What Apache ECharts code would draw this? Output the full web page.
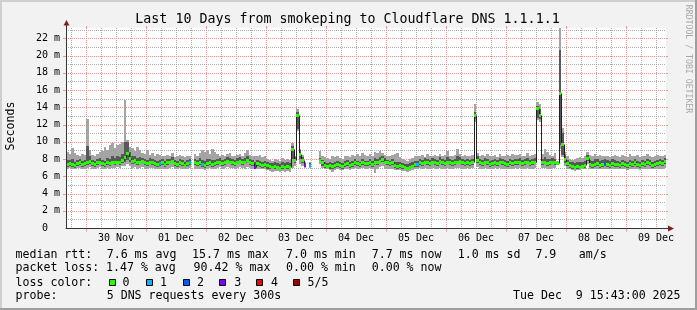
<!DOCTYPE html>
<html>
<head>
<meta charset="utf-8">
<script src="https://cdn.jsdelivr.net/npm/echarts@6.0.0/dist/echarts.min.js"></script>
<style>
html,body{margin:0;padding:0;background:#f2f2f2;overflow:hidden;}
#chart{width:697px;height:310px;}
</style>
</head>
<body>
<div id="chart"></div>
<script>
// ---------------- data (milliseconds), one step per hour ----------------
// hour offsets are relative to 30 Nov 00:00
const firstStepHour = -8;
const xRange = [-8, 232];
const yMaxMs = 23.2;

const dayLabels = ['30 Nov','01 Dec','02 Dec','03 Dec','04 Dec','05 Dec','06 Dec','07 Dec','08 Dec','09 Dec'];
const dayLabelHours = [12,36,60,84,108,132,156,180,204,228];
const dayLineHours = [0,24,48,72,96,120,144,168,192,216];
const sixHourLineHours = [-6,6,12,18,30,36,42,54,60,66,78,84,90,102,108,114,126,132,138,150,156,162,174,180,186,198,204,210,222,228];
const yLabelValues = [0,2,4,6,8,10,12,14,16,18,20,22];
const yMajorLines = [2,4,6,8,10,12,14,16,18,20,22];
const yMinorLines = [1,3,5,7,9,11,13,15,17,19,21,23];

const medianRtt = [
7.4,7.5,7.4,7.3,7.5,7.6,7.4,7.5,7.6,7.8,7.5,7.4,7.6,7.7,7.5,7.4,7.6,7.5,7.7,7.6,
7.7,7.6,7.9,8.2,8.7,8.1,7.8,7.9,7.6,7.7,7.8,7.6,7.5,7.7,7.6,7.5,7.4,7.5,7.6,7.4,
7.6,7.7,7.8,7.5,7.4,7.6,7.5,7.3,7.5,7.6,null,7.6,7.5,7.6,7.4,7.3,7.5,7.6,7.4,7.5,
7.6,7.7,7.5,7.6,7.8,7.7,7.6,7.5,7.7,7.8,7.6,7.7,7.9,7.6,7.5,7.1,7.5,7.4,7.3,7.4,
7.3,7.2,7.1,7.2,7.1,7.0,7.2,7.1,7.2,7.1,9.2,7.9,13.1,8.6,7.9,7.3,null,7.3,null,null,
null,7.9,7.6,7.3,7.2,7.3,7.2,7.3,7.4,7.3,7.2,7.4,7.5,7.3,7.4,7.6,7.5,7.4,7.6,7.5,
7.5,7.6,7.4,7.7,7.6,7.8,8.0,7.7,7.6,7.5,7.6,7.3,7.2,7.3,7.2,7.1,7.0,7.1,7.2,7.4,
7.4,7.6,7.5,7.7,7.6,7.5,7.7,7.6,7.5,7.8,7.6,7.5,7.7,7.6,7.5,7.6,7.7,7.8,7.6,7.5,
7.6,7.5,7.6,13.1,7.9,7.6,7.5,7.7,7.6,7.4,7.5,7.6,7.5,7.7,7.6,7.5,7.4,7.6,7.5,7.6,
7.6,7.7,7.5,7.6,7.7,7.5,7.6,7.7,13.9,13.1,7.6,7.7,7.5,7.6,7.7,7.6,7.5,15.7,9.8,8.0,
7.5,7.3,7.2,7.1,7.2,7.1,7.2,7.3,8.1,7.4,7.3,7.4,7.5,7.3,7.4,7.5,7.4,7.3,7.5,7.4,
7.4,7.3,7.5,7.4,7.3,7.5,7.4,7.6,7.4,7.3,7.5,7.4,7.6,7.5,7.3,7.4,7.5,7.6,7.5,7.8
];
const pingMin = [
6.9,7.0,6.9,6.8,7.0,7.0,6.9,6.9,7.0,7.1,6.9,6.9,7.0,7.1,6.9,6.8,7.0,6.9,7.0,7.0,
7.1,7.0,7.2,7.2,7.4,7.2,7.0,7.1,6.9,7.0,7.1,6.9,6.9,7.0,7.0,6.9,6.9,6.8,6.9,6.9,
6.9,7.0,7.1,6.8,6.9,7.0,6.9,6.8,6.9,7.0,null,6.9,6.8,6.9,6.8,6.7,6.9,7.0,6.8,6.9,
7.0,7.1,6.9,7.0,7.1,7.0,7.0,6.9,7.0,7.1,7.0,6.9,7.1,7.0,6.9,6.8,6.9,6.8,6.8,6.9,
6.7,6.6,6.5,6.6,6.6,6.5,6.6,6.5,6.6,6.5,7.0,7.2,11.2,7.4,7.2,7.0,null,7.0,null,null,
null,7.4,7.0,6.8,6.8,6.7,6.5,6.7,6.8,6.7,6.7,6.8,6.9,6.7,6.8,7.0,6.9,6.8,7.0,6.9,
6.9,7.0,6.8,6.4,6.9,7.1,7.2,6.9,6.9,6.8,6.9,6.7,6.7,6.7,6.6,6.6,6.5,6.6,6.7,6.9,
6.9,7.0,6.9,7.0,6.9,6.9,7.0,6.9,6.9,7.0,6.9,6.8,7.0,6.9,6.9,7.0,7.0,7.0,6.9,6.9,
7.0,6.9,7.0,12.3,7.1,6.9,6.9,7.0,6.9,6.8,6.9,7.0,6.9,7.0,6.9,6.9,6.8,6.9,6.9,7.0,
6.9,7.0,6.9,6.9,7.0,6.8,6.9,7.0,12.5,12.3,7.0,7.0,6.9,6.9,7.0,7.0,7.3,9.2,8.2,7.2,
6.9,6.8,6.7,6.6,6.7,6.7,6.8,6.8,7.4,6.8,6.8,6.9,6.9,6.8,6.9,6.9,6.8,6.8,6.9,6.9,
6.8,6.8,6.9,6.8,6.7,6.9,6.8,6.9,6.8,6.7,6.9,6.8,6.9,6.9,6.8,6.8,6.9,6.9,6.8,7.0
];
const pingLow = [
7.1,7.2,7.1,7.0,7.2,7.3,7.1,7.2,7.3,7.4,7.2,7.1,7.3,7.4,7.2,7.1,7.3,7.2,7.4,7.3,
7.4,7.3,7.5,7.6,7.9,7.6,7.4,7.5,7.3,7.4,7.5,7.3,7.2,7.4,7.3,7.2,7.1,7.2,7.3,7.1,
7.3,7.4,7.5,7.2,7.1,7.3,7.2,7.1,7.2,7.3,null,7.3,7.2,7.3,7.1,7.0,7.2,7.3,7.1,7.2,
7.3,7.4,7.2,7.3,7.5,7.4,7.3,7.2,7.4,7.5,7.3,7.4,7.6,7.3,7.2,7.0,7.2,7.1,7.0,7.1,
6.9,6.9,6.8,6.9,6.8,6.8,6.9,6.8,6.9,6.8,8.0,7.5,11.5,8.0,7.5,7.1,null,7.1,null,null,
null,7.6,7.2,7.0,7.0,6.9,6.9,7.0,7.1,7.0,6.9,7.1,7.2,7.0,7.1,7.3,7.2,7.1,7.3,7.2,
7.2,7.3,7.1,7.4,7.3,7.5,7.6,7.4,7.3,7.2,7.3,7.0,6.9,7.0,6.9,6.8,6.8,6.9,7.0,7.1,
7.1,7.3,7.2,7.4,7.3,7.2,7.4,7.3,7.2,7.5,7.3,7.2,7.4,7.3,7.2,7.3,7.4,7.5,7.3,7.2,
7.3,7.2,7.3,12.6,7.5,7.3,7.2,7.4,7.3,7.1,7.2,7.3,7.2,7.4,7.3,7.2,7.1,7.3,7.2,7.3,
7.3,7.4,7.2,7.3,7.4,7.2,7.3,7.4,12.8,12.6,7.3,7.4,7.2,7.3,7.4,7.3,7.4,9.6,8.5,7.5,
7.2,7.0,6.9,6.8,6.9,6.9,7.0,7.0,7.8,7.1,7.0,7.1,7.2,7.0,7.1,7.2,7.1,7.0,7.2,7.1,
7.1,7.0,7.2,7.1,7.0,7.2,7.1,7.3,7.1,7.0,7.2,7.1,7.3,7.2,7.0,7.1,7.2,7.3,7.2,7.4
];
const pingHigh = [
7.9,7.9,8.0,7.7,7.9,8.0,7.8,7.9,9.5,8.3,7.9,7.8,8.0,8.1,7.9,7.8,8.1,8.0,8.3,8.1,
8.3,8.2,8.6,10.0,10.0,8.8,8.3,8.4,8.1,8.2,8.1,8.0,7.9,8.1,8.0,7.9,7.8,7.9,8.0,7.8,
8.0,8.0,8.2,7.9,7.8,8.0,7.9,7.7,7.9,8.0,null,8.0,7.9,8.1,7.9,7.8,8.0,8.0,7.9,7.9,
8.0,8.1,7.9,8.0,8.2,8.1,8.0,7.9,8.1,8.2,8.0,8.1,8.3,8.0,7.9,7.7,7.9,7.8,7.7,7.8,
7.6,7.5,7.5,7.6,7.5,7.4,7.6,7.5,7.6,7.5,9.5,8.2,13.5,9.0,8.2,7.5,null,7.5,null,null,
null,8.1,7.9,7.6,7.5,7.6,7.5,7.6,7.8,7.6,7.5,7.8,7.9,7.6,7.8,8.0,7.8,7.7,8.0,7.8,
7.8,8.0,7.8,8.1,8.0,8.2,8.3,8.1,7.9,7.8,8.0,7.7,7.6,7.6,7.5,7.4,7.4,7.5,7.6,7.8,
7.8,8.0,7.9,8.1,8.0,7.9,8.1,8.0,7.9,8.2,8.0,7.9,8.2,8.0,7.9,8.0,8.3,8.2,8.0,7.9,
8.0,7.9,8.0,13.4,8.3,8.0,7.9,8.1,8.0,7.8,7.9,8.0,7.9,8.1,8.0,7.9,7.8,8.0,7.9,8.0,
8.0,8.1,7.9,8.0,8.1,7.9,8.0,8.1,14.2,13.8,8.0,8.2,8.0,8.0,8.1,8.0,7.6,20.6,11.0,8.5,
7.9,7.7,7.6,7.5,7.6,7.6,7.7,7.8,8.5,7.9,7.8,8.0,8.0,7.8,7.9,8.0,7.9,7.8,8.0,7.9,
7.8,7.7,7.9,7.8,7.7,7.9,7.8,8.0,7.8,7.7,7.9,7.8,8.0,7.9,7.7,7.8,7.9,8.0,7.9,8.1
];
const pingMax = [
8.8,8.6,9.3,8.7,8.5,8.4,8.6,8.5,12.6,9.0,8.5,8.4,8.6,8.8,8.9,9.4,9.0,9.6,9.9,9.3,
9.6,9.8,10.0,14.8,10.2,9.4,9.3,8.9,9.4,9.0,8.7,8.6,9.0,8.5,8.7,8.4,8.6,8.5,8.4,8.3,
8.5,8.3,8.7,8.2,8.4,8.5,8.3,8.2,8.4,8.3,null,8.6,8.4,8.7,9.0,8.8,9.0,8.6,9.2,8.8,
8.6,8.4,8.5,8.3,8.6,8.7,8.4,8.3,8.5,8.6,8.4,8.7,9.1,8.5,8.4,8.3,8.4,8.5,8.2,8.3,
8.0,7.9,7.8,8.0,7.9,7.8,8.1,7.9,8.0,7.9,9.9,8.4,13.8,9.2,8.5,7.7,null,7.6,null,null,
null,8.9,8.4,8.2,8.1,8.0,8.3,8.2,8.4,8.1,8.0,8.3,8.4,8.2,8.5,8.4,8.6,8.3,8.7,8.5,
8.4,8.6,8.3,8.8,8.7,8.9,8.7,8.5,8.4,8.3,8.5,8.6,8.7,8.2,8.0,7.9,7.8,8.0,8.1,8.3,
8.3,8.4,8.5,8.2,8.6,8.4,8.3,8.5,8.4,8.6,8.3,8.5,8.9,8.4,8.3,8.5,9.2,8.6,8.4,8.5,
8.4,8.3,8.5,14.4,8.7,8.4,8.5,8.3,8.6,8.4,8.3,8.5,8.2,8.6,8.4,8.3,8.5,8.4,8.6,8.5,
8.5,8.6,8.4,8.3,8.7,8.4,8.5,8.6,14.6,14.4,8.6,9.2,8.8,8.5,8.4,8.7,7.8,23.2,11.6,8.8,
8.3,8.0,7.9,8.0,8.1,8.2,8.1,8.4,8.8,8.5,8.3,8.6,8.4,8.5,8.3,8.4,8.3,8.2,8.4,8.5,
8.4,8.2,8.5,8.3,8.2,8.6,8.3,8.4,8.5,8.2,8.4,8.3,8.6,8.4,8.2,8.3,8.5,8.4,8.3,8.5
];
// packet loss (pings lost of 5) at the steps where it was not 0
const lossStepIndex = [37,49,54,75,95,97,140,215];
const lossStepCount = [1,1,1,3,3,1,1,2];
const lossColors = ['#26ff00','#00b8ff','#0059ff','#7e00ff','#ff0000','#a10000'];
const lossLabels = ['0','1','2','3','4','5/5'];

// ---------------- texts ----------------
const titleText = 'Last 10 Days from smokeping to Cloudflare DNS 1.1.1.1';
const yAxisName = 'Seconds';
const watermark = 'RRDTOOL / TOBI OETIKER';
const rttLabel = 'median rtt:';
const rttStats = ['7.6 ms avg','15.7 ms max','7.0 ms min','7.7 ms now','1.0 ms sd','7.9','am/s'];
const lossLabel = 'packet loss:';
const lossStats = ['1.47 % avg','90.42 % max','0.00 % min','0.00 % now'];
const colorLabel = 'loss color:';
const probeLabel = 'probe:';
const probeText = '5 DNS requests every 300s';
const stampText = 'Tue Dec  9 15:43:00 2025';

// ---------------- styles ----------------
const MONO = '"DejaVu Sans Mono", monospace';
const GRID_C = 'rgba(143,143,143,0.75)';
const MGRID_C = '#eb9595';
const AXIS_C = '#333333';
const ARROW_C = '#801f1f';

const steps = medianRtt.map((m, i) => firstStepHour + i);
const lossByStep = medianRtt.map(() => 0);
lossStepIndex.forEach((s, k) => { lossByStep[s] = lossStepCount[k]; });

const smokeData = steps.map((h, i) => [h, pingMin[i], pingLow[i], pingHigh[i], pingMax[i]]);
const lineData = steps.map((h, i) => [h, medianRtt[i], i > 0 ? medianRtt[i - 1] : null]);
const boxData = steps.map((h, i) => [h, medianRtt[i], lossByStep[i]]);
const vGridData = dayLineHours.map(h => [h, 0, 1]).concat(sixHourLineHours.map(h => [h, 0, 0]));
const hGridData = yMajorLines.map(v => [xRange[0], v, 1]).concat(yMinorLines.map(v => [xRange[0], v, 0]));

function bad(v) { return v === null || v === undefined || isNaN(v); }

const chart = echarts.init(document.getElementById('chart'), null, { renderer: 'canvas' });

const option = {
  animation: false,
  backgroundColor: '#f2f2f2',
  grid: { left: 66, top: 28, width: 600, height: 200, show: true, backgroundColor: '#ffffff', borderWidth: 0, outerBoundsMode: 'none', containLabel: false },
  xAxis: {
    type: 'value', min: xRange[0], max: xRange[1], z: 10,
    splitLine: { show: false }, axisTick: { show: false },
    axisLine: { show: true, onZero: false, lineStyle: { color: AXIS_C, width: 1 } },
    axisLabel: {
      customValues: dayLabelHours, margin: 5,
      formatter: v => { const k = dayLabelHours.indexOf(v); return k >= 0 ? dayLabels[k] : ''; },
      fontFamily: MONO, fontSize: 10, color: '#000'
    }
  },
  yAxis: {
    type: 'value', min: 0, max: yMaxMs, interval: 1, z: 10,
    splitLine: { show: false }, axisTick: { show: false },
    axisLine: { show: true, onZero: false, lineStyle: { color: AXIS_C, width: 1 } },
    axisLabel: {
      customValues: yLabelValues, margin: 6,
      formatter: v => v === 0 ? '0  ' : v + ' m',
      fontFamily: MONO, fontSize: 10, color: '#000'
    }
  },
  series: [
    { // vertical grid
      type: 'custom', silent: true, z: 1, data: vGridData, encode: { x: 0, y: 1 },
      renderItem: (params, api) => {
        const cs = params.coordSys;
        const major = api.value(2) === 1;
        const x = Math.round(api.coord([api.value(0), 0])[0]) + 0.5;
        const yt = cs.y, yb = cs.y + cs.height;
        const ch = [{ type: 'line', shape: { x1: x, y1: yt, x2: x, y2: yb }, style: { stroke: major ? MGRID_C : GRID_C, lineWidth: 1, lineDash: [1, 1] } }];
        if (major) {
          ch.push({ type: 'line', shape: { x1: x, y1: yb, x2: x, y2: yb + 3.5 }, style: { stroke: MGRID_C, lineWidth: 1 } });
          ch.push({ type: 'line', shape: { x1: x, y1: yt - 2, x2: x, y2: yt }, style: { stroke: MGRID_C, lineWidth: 1 } });
        }
        return { type: 'group', children: ch };
      }
    },
    { // horizontal grid
      type: 'custom', silent: true, z: 1, data: hGridData, encode: { x: 0, y: 1 },
      renderItem: (params, api) => {
        const cs = params.coordSys;
        const major = api.value(2) === 1;
        const y = Math.round(api.coord([xRange[0], api.value(1)])[1]) + 0.5;
        const xl = cs.x, xr = cs.x + cs.width;
        const ch = [{ type: 'line', shape: { x1: xl, y1: y, x2: xr, y2: y }, style: { stroke: major ? MGRID_C : GRID_C, lineWidth: 1, lineDash: [1, 1] } }];
        if (major) {
          ch.push({ type: 'line', shape: { x1: xl - 3, y1: y, x2: xl, y2: y }, style: { stroke: MGRID_C, lineWidth: 1 } });
          ch.push({ type: 'line', shape: { x1: xr, y1: y, x2: xr + 2, y2: y }, style: { stroke: MGRID_C, lineWidth: 1 } });
        }
        return { type: 'group', children: ch };
      }
    },
    { // smoke
      type: 'custom', silent: true, z: 2, clip: true, data: smokeData, encode: { x: 0, y: 1 },
      renderItem: (params, api) => {
        const h = api.value(0);
        const a = api.value(1), b = api.value(2), c = api.value(3), d = api.value(4);
        if (bad(a) || bad(d)) return null;
        const cs = params.coordSys;
        const right = Math.round(cs.x + cs.width);
        const x0 = Math.max(Math.round(api.coord([h, 0])[0]), Math.round(cs.x) + 1);
        const x1 = Math.min(Math.round(api.coord([h + 1, 0])[0]), right);
        if (x1 <= x0) return null;
        const ya = Math.round(api.coord([h, a])[1]), yb = Math.round(api.coord([h, b])[1]);
        const yc = Math.round(api.coord([h, c])[1]), yd = Math.round(api.coord([h, d])[1]);
        return { type: 'group', children: [
          { type: 'rect', shape: { x: x0, y: yd, width: x1 - x0, height: Math.max(1, ya - yd) }, style: { fill: '#a4a4a4' } },
          { type: 'rect', shape: { x: x0, y: yc, width: x1 - x0, height: Math.max(1, yb - yc) }, style: { fill: '#585858' } }
        ] };
      }
    },
    { // median line
      type: 'custom', silent: true, z: 3, clip: true, data: lineData, encode: { x: 0, y: 1 },
      renderItem: (params, api) => {
        const h = api.value(0), m = api.value(1), p = api.value(2);
        if (bad(m)) return null;
        const cs = params.coordSys;
        const right = Math.round(cs.x + cs.width);
        const x0 = Math.max(Math.round(api.coord([h, 0])[0]), Math.round(cs.x) + 1);
        const x1 = Math.min(Math.round(api.coord([h + 1, 0])[0]), right);
        const y = Math.round(api.coord([h, m])[1]) + 0.5;
        const ch = [{ type: 'line', shape: { x1: x0, y1: y, x2: x1, y2: y }, style: { stroke: '#202020', lineWidth: 1 } }];
        if (!bad(p)) {
          const yp = Math.round(api.coord([h, p])[1]) + 0.5;
          ch.push({ type: 'line', shape: { x1: x0 + 0.5, y1: yp, x2: x0 + 0.5, y2: y }, style: { stroke: '#202020', lineWidth: 1 } });
        }
        return { type: 'group', children: ch };
      }
    },
    { // loss coloured median boxes
      type: 'custom', silent: true, z: 4, clip: true, data: boxData, encode: { x: 0, y: 1 },
      renderItem: (params, api) => {
        const h = api.value(0), m = api.value(1), l = api.value(2);
        if (bad(m)) return null;
        const cs = params.coordSys;
        const right = Math.round(cs.x + cs.width);
        const x0 = Math.max(Math.round(api.coord([h, 0])[0]), Math.round(cs.x) + 1);
        const x1 = Math.min(Math.round(api.coord([h + 1, 0])[0]), right);
        if (x1 <= x0) return null;
        const y = Math.round(api.coord([h, m])[1]);
        return { type: 'rect', shape: { x: x0, y: y - 1, width: x1 - x0, height: 3 }, style: { fill: lossColors[l] || lossColors[0] } };
      }
    }
  ]
};
chart.setOption(option);

// ---------------- decorations / texts ----------------
const origin = chart.convertToPixel({ gridIndex: 0 }, [xRange[0], 0]);
const topPx = chart.convertToPixel({ gridIndex: 0 }, [xRange[0], yMaxMs])[1];
const rightPx = chart.convertToPixel({ gridIndex: 0 }, [xRange[1], 0])[0];
const ax = Math.round(origin[0]) + 0.5, ay = Math.round(origin[1]) + 0.5;

function txt(text, x, y, size, opts) {
  opts = opts || {};
  return {
    type: 'text', x: x, y: y, z: 100, rotation: opts.rotation || 0, silent: true,
    style: {
      text: text, font: size + 'px ' + MONO, fill: opts.fill || '#000',
      align: opts.align || 'left', verticalAlign: 'middle',
      textAlign: opts.align || 'left', textVerticalAlign: 'middle'
    }
  };
}

const g = [];
// frame
g.push({ type: 'rect', z: 100, silent: true, shape: { x: 0, y: 0, width: 697, height: 2 }, style: { fill: '#cfcfcf' } });
g.push({ type: 'rect', z: 100, silent: true, shape: { x: 0, y: 0, width: 2, height: 310 }, style: { fill: '#cfcfcf' } });
g.push({ type: 'rect', z: 100, silent: true, shape: { x: 0, y: 308, width: 697, height: 2 }, style: { fill: '#9e9e9e' } });
g.push({ type: 'rect', z: 100, silent: true, shape: { x: 695, y: 0, width: 2, height: 310 }, style: { fill: '#9e9e9e' } });
// axis extensions + arrows
g.push({ type: 'line', z: 100, silent: true, shape: { x1: ax, y1: topPx, x2: ax, y2: topPx - 3 }, style: { stroke: AXIS_C, lineWidth: 1 } });
g.push({ type: 'polygon', z: 100, silent: true, shape: { points: [[ax, topPx - 8], [ax - 3, topPx - 2.5], [ax + 3, topPx - 2.5]] }, style: { fill: ARROW_C } });
g.push({ type: 'line', z: 100, silent: true, shape: { x1: rightPx, y1: ay, x2: rightPx + 2, y2: ay }, style: { stroke: AXIS_C, lineWidth: 1 } });
g.push({ type: 'polygon', z: 100, silent: true, shape: { points: [[rightPx + 8, ay], [rightPx + 2, ay - 3], [rightPx + 2, ay + 3]] }, style: { fill: ARROW_C } });
// title, axis name, watermark
g.push(txt(titleText, 347.5, 19.8, 13.3, { align: 'center' }));
g.push(txt(yAxisName, 10.5, 126, 11.6, { align: 'center', rotation: Math.PI / 2 }));
g.push(txt(watermark, 688.3, 59, 8.2, { align: 'center', rotation: -Math.PI / 2, fill: '#a8a8a8' }));
// legend lines
const L1 = 254.5, L2 = 268, L3 = 282.5, L4 = 296;
g.push(txt(rttLabel, 15.5, L1, 11.6));
const rttX = [106.7, 192, 286, 371.7, 457.7, 535.4, 578.8];
rttStats.forEach((s, k) => g.push(txt(s, rttX[k], L1, 11.6)));
g.push(txt(lossLabel, 15.5, L2, 11.6));
const lossX = [106, 193.6, 286, 371.7];
lossStats.forEach((s, k) => g.push(txt(s, lossX[k], L2, 11.6)));
g.push(txt(colorLabel, 15.5, L3, 11.6));
const boxX = [109, 146, 183, 219, 256, 293];
const boxLabelX = [122.5, 160, 197, 234.3, 271, 307.5];
lossColors.forEach((c, k) => {
  g.push({ type: 'rect', z: 100, silent: true, shape: { x: boxX[k] + 0.5, y: 279.5, width: 6, height: 6 }, style: { fill: c, stroke: '#000', lineWidth: 1 } });
  g.push(txt(lossLabels[k], boxLabelX[k], L3, 11.6));
});
g.push(txt(probeLabel, 15.5, L4, 11.6));
g.push(txt(probeText, 106.7, L4, 11.6));
g.push(txt(stampText, 513, L4, 11.6));

chart.setOption({ graphic: g });
</script>
</body>
</html>
